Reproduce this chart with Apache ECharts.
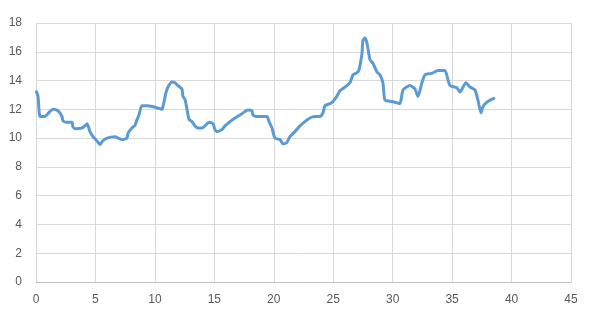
<!DOCTYPE html>
<html><head><meta charset="utf-8">
<script src="https://cdn.jsdelivr.net/npm/echarts@6/dist/echarts.min.js"></script>
<style>html,body{margin:0;padding:0;background:#fff}#c{width:591px;height:318px}</style>
</head><body><div id="c"></div>
<script>
const xs = [0,0.17,0.34,0.76,1.0,1.43,1.85,2.19,2.27,2.6,3.03,3.1,3.3,3.87,4.12,4.3,4.54,4.8,5.13,5.38,5.6,5.97,6.64,6.9,7.23,7.65,7.74,8.07,8.33,8.5,8.66,8.9,9.34,9.76,10.18,10.6,10.68,10.93,11.1,11.44,11.69,11.94,12.28,12.36,12.53,12.7,12.87,13.12,13.37,13.62,13.96,14.21,14.55,14.89,15.05,15.22,15.64,15.9,16.32,16.74,17.16,17.58,17.83,18.17,18.25,18.59,19.0,19.43,19.6,19.85,20.1,20.52,20.77,21.1,21.36,21.78,22.2,22.62,23.04,23.46,23.89,24.14,24.3,24.73,24.98,25.3,25.57,25.99,26.41,26.66,27.0,27.17,27.42,27.5,27.67,27.84,28.09,28.34,28.68,28.93,29.18,29.35,29.94,30.6,30.87,31.46,31.88,32.13,32.46,32.72,33.3,33.8,34.4,34.65,34.82,35.4,35.66,36.16,36.5,36.92,37.17,37.43,37.6,38.0,38.6];
const ys = [13.3,12.9,11.5,11.5,11.7,12.0,11.9,11.5,11.2,11.1,11.1,10.8,10.65,10.7,10.85,11.0,10.45,10.1,9.8,9.55,9.8,10.0,10.1,10.0,9.9,10.0,10.35,10.7,10.9,11.3,11.6,12.25,12.25,12.2,12.1,12.0,12.2,13.15,13.55,13.9,13.85,13.65,13.4,12.9,12.7,12.0,11.3,11.15,10.85,10.7,10.7,10.85,11.1,11.0,10.6,10.45,10.6,10.85,11.15,11.4,11.6,11.85,11.95,11.9,11.6,11.5,11.5,11.5,11.15,10.7,10.0,9.9,9.6,9.7,10.1,10.45,10.85,11.15,11.4,11.5,11.5,11.75,12.25,12.4,12.55,12.9,13.3,13.55,13.85,14.4,14.55,14.75,15.9,16.8,16.95,16.6,15.45,15.2,14.6,14.4,13.85,12.65,12.55,12.4,13.35,13.65,13.4,12.9,13.85,14.4,14.5,14.7,14.7,14.05,13.65,13.5,13.2,13.85,13.55,13.35,12.65,11.75,12.2,12.55,12.8];
const data = xs.map((x,i)=>[x,ys[i]]);
const chart = echarts.init(document.getElementById('c'));
const lbl = {color:'#595959', fontSize:12, fontFamily:'Liberation Sans, Arial, sans-serif'};
chart.setOption({
  animation:false,
  grid:{left:36,right:20,top:23,bottom:36},
  xAxis:{type:'value',min:0,max:45,interval:5,
    axisLine:{show:true,lineStyle:{color:'#bfbfbf'}},axisTick:{show:false},
    splitLine:{show:true,lineStyle:{color:'#d9d9d9'}},
    axisLabel:Object.assign({margin:12},lbl)},
  yAxis:{type:'value',min:0,max:18,interval:2,
    axisLine:{show:false},axisTick:{show:false},
    splitLine:{show:true,lineStyle:{color:'#d9d9d9'}},
    axisLabel:Object.assign({margin:14},lbl)},
  series:[{type:'line',data:data,showSymbol:false,smooth:0.2,
    lineStyle:{color:'#5B9BD5',width:3},itemStyle:{color:'#5B9BD5'}}]
});
</script></body></html>
